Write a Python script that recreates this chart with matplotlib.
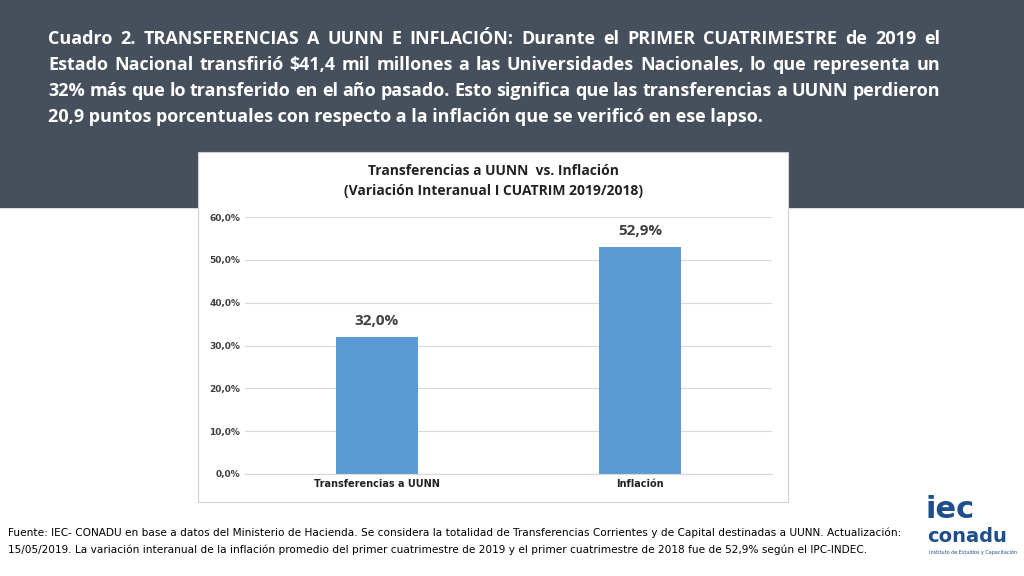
import matplotlib
matplotlib.use("Agg")
import matplotlib.pyplot as plt
from matplotlib.patches import Rectangle

categories = ["Transferencias a UUNN", "Inflación"]
values = [32.0, 52.9]
value_labels = ["32,0%", "52,9%"]
yticks = [0, 10, 20, 30, 40, 50, 60]
ytick_labels = ["0,0%", "10,0%", "20,0%", "30,0%", "40,0%", "50,0%", "60,0%"]

W, H = 1024, 576
fig = plt.figure(figsize=(W/100, H/100), dpi=100)
bg = fig.add_axes([0, 0, 1, 1]); bg.set_xlim(0, W); bg.set_ylim(H, 0); bg.axis("off")
bg.add_patch(Rectangle((0, 0), W, 207, color="#46505c"))
bg.add_patch(Rectangle((198, 152), 590, 350, facecolor="white", edgecolor="#d0d0d0", lw=0.8))

title_lines = [
    "Cuadro 2. TRANSFERENCIAS A UUNN E INFLACIÓN: Durante el PRIMER CUATRIMESTRE de 2019 el",
    "Estado Nacional transfirió $41,4 mil millones a las Universidades Nacionales, lo que representa un",
    "32% más que lo transferido en el año pasado. Esto significa que las transferencias a UUNN perdieron",
    "20,9 puntos porcentuales con respecto a la inflación que se verificó en ese lapso.",
]
fig.canvas.draw()
r = fig.canvas.get_renderer()
x0, x1 = 48, 940
for i, t in enumerate(title_lines):
    y = 39 + i*26
    kw = dict(color="white", fontsize=13, fontweight="bold", fontfamily="Open Sans", va="center", ha="left")
    if i == len(title_lines) - 1:
        bg.text(x0, y, t, **kw); continue
    words = t.split(" ")
    objs = [bg.text(0, y, w, **kw) for w in words]
    widths = [o.get_window_extent(r).width for o in objs]
    gap = (x1 - x0 - sum(widths)) / (len(words) - 1)
    xx = x0
    for o, w in zip(objs, widths):
        o.set_x(xx); xx += w + gap

bg.text(493, 171, "Transferencias a UUNN  vs. Inflación", ha="center", va="center",
        fontsize=10, fontweight="bold", fontfamily="Open Sans", color="#222222")
bg.text(493, 191, "(Variación Interanual I CUATRIM 2019/2018)", ha="center", va="center",
        fontsize=10, fontweight="bold", fontfamily="Open Sans", color="#222222")

foot = ["Fuente: IEC- CONADU en base a datos del Ministerio de Hacienda. Se considera la totalidad de Transferencias Corrientes y de Capital destinadas a UUNN. Actualización:",
        "15/05/2019. La variación interanual de la inflación promedio del primer cuatrimestre de 2019 y el primer cuatrimestre de 2018 fue de 52,9% según el IPC-INDEC."]
for i, t in enumerate(foot):
    bg.text(8, 533 + i*17, t, fontsize=7.6, va="center", color="black")

bg.text(926, 510, "iec", fontsize=22, fontweight="bold", color="#1e4e8c", va="center")
bg.text(927, 536, "conadu", fontsize=14, fontweight="bold", color="#1e4e8c", va="center")
bg.text(929, 552, "Instituto de Estudios y Capacitación", fontsize=3.5, color="#1e4e8c", va="center")

ax = fig.add_axes([245/W, 1-474/H, (772-245)/W, (474-217)/H])
x = [0, 1]
ax.bar(x, values, width=0.31, color="#5b9bd5")
for xi, v, l in zip(x, values, value_labels):
    ax.text(xi, v + 2.2, l, ha="center", va="bottom", fontsize=11, fontweight="bold",
            fontfamily="Open Sans", color="#404040")
ax.set_xlim(-0.5, 1.5); ax.set_ylim(0, 60)
ax.set_yticks(yticks); ax.set_yticklabels(ytick_labels, fontsize=6.5, fontweight="bold", color="#404040")
ax.set_xticks(x); ax.set_xticklabels(categories, fontsize=7, fontweight="bold", color="#222222")
ax.grid(axis="y", color="#d9d9d9", lw=0.8); ax.set_axisbelow(True)
for s in ["top", "right", "left"]:
    ax.spines[s].set_visible(False)
ax.spines["bottom"].set_color("#d9d9d9")
ax.tick_params(length=0)
fig.savefig("out.png", dpi=100)
